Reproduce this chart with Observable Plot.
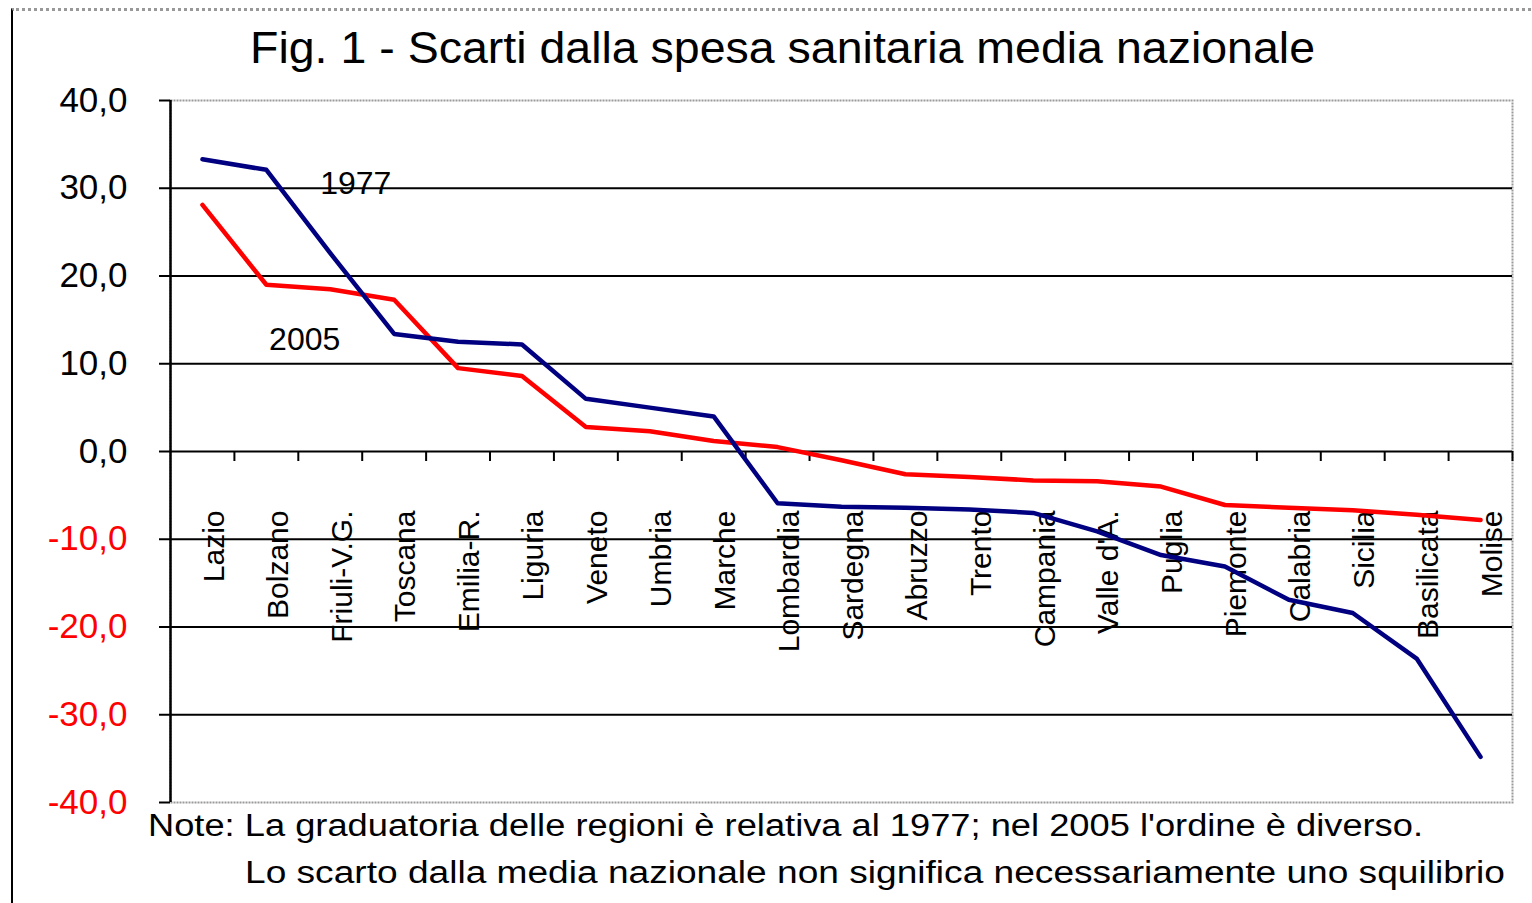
<!DOCTYPE html>
<html><head><meta charset="utf-8">
<script src="https://cdn.jsdelivr.net/npm/d3@7"></script>
<script src="https://cdn.jsdelivr.net/npm/@observablehq/plot@0.6"></script>
<style>
body{margin:0;background:#fff;}
#wrap{position:relative;width:1532px;height:903px;overflow:hidden;background:#fff;font-family:"Liberation Sans",Arial,sans-serif;color:#000;}
#border{position:absolute;left:11px;top:8px;width:1530px;height:900px;border-left:2px solid #000;border-top:3px dotted #999;}
.txt{position:absolute;white-space:nowrap;line-height:1;transform-origin:left top;}
#chart{position:absolute;left:0;top:0;}
</style></head><body>
<div id="wrap">
<div id="border"></div>
<div id="chart"></div>
<div class="txt" id="title" style="font-size:44px;">Fig. 1 - Scarti dalla spesa sanitaria media nazionale</div>
<div class="txt" id="n1" style="font-size:31px;">Note: La graduatoria delle regioni è relativa al 1977; nel 2005 l'ordine è diverso.</div>
<div class="txt" id="n2" style="font-size:31px;">Lo scarto dalla media nazionale non significa necessariamente uno squilibrio</div>
</div>
<script>
const regions = ["Lazio","Bolzano","Friuli-V.G.","Toscana","Emilia-R.","Liguria","Veneto","Umbria","Marche","Lombardia","Sardegna","Abruzzo","Trento","Campania","Valle d'A.","Puglia","Piemonte","Calabria","Sicilia","Basilicata","Molise"];
const scarti1977 = [33.3, 32.1, 22.6, 13.4, 12.5, 12.2, 6.0, 5.0, 4.0, -5.9, -6.3, -6.4, -6.6, -7.0, -9.1, -11.8, -13.1, -16.9, -18.4, -23.6, -34.8];
const scarti2005 = [28.1, 19.0, 18.5, 17.3, 9.5, 8.6, 2.8, 2.3, 1.2, 0.5, -1.0, -2.6, -2.9, -3.3, -3.4, -4.0, -6.1, -6.4, -6.7, -7.2, -7.8];
const yTicks = [40, 30, 20, 10, 0, -10, -20, -30, -40];
const gridValues = [30, 20, 10, 0, -10, -20, -30];
const seriesLabels = [{text: "1977", i: 2.4, v: 30.5}, {text: "2005", i: 1.6, v: 12.7}];

const blue = "#000080", red = "#ff0000";
const idx = regions.map((r, i) => i);
const d1977 = idx.map(i => ({i, v: scarti1977[i]}));
const d2005 = idx.map(i => ({i, v: scarti2005[i]}));
const bounds = d3.range(0.5, regions.length - 0.4, 1);
const fmt = d => d.toFixed(1).replace(".", ",");
const font = '"Liberation Sans", Arial, sans-serif';

const chart = Plot.plot({
  width: 1532, height: 820,
  marginLeft: 170, marginRight: 20, marginTop: 100, marginBottom: 18,
  style: {fontFamily: font, background: "transparent", color: "#000"},
  x: {domain: [-0.5, regions.length - 0.5], axis: null},
  y: {domain: [-40, 40], axis: null},
  marks: [
    Plot.frame({stroke: "#999", strokeDasharray: "2,1", strokeWidth: 2}),
    Plot.ruleY(gridValues, {stroke: "#000", strokeWidth: 2}),
    Plot.ruleX([-0.5], {stroke: "#000", strokeWidth: 2.5}),
    Plot.ruleX(bounds, {x: d => d, y1: 0, y2: 0, insetBottom: -10, stroke: "#000", strokeWidth: 2}),
    Plot.axisY({ticks: yTicks, tickSize: 11, tickPadding: 32, tickFormat: fmt, fontSize: 35, strokeWidth: 2, label: null,
      fill: d => d < 0 ? red : "#000"}),
    Plot.text(regions, {x: (d, i) => i, frameAnchor: "top", dy: 410, text: d => d, rotate: -90, textAnchor: "end", fontSize: 30, fill: "#000"}),
    Plot.line(d2005, {x: "i", y: "v", stroke: red, strokeWidth: 4.5}),
    Plot.line(d1977, {x: "i", y: "v", stroke: blue, strokeWidth: 4.5}),
    Plot.text(seriesLabels, {x: "i", y: "v", text: "text", fontSize: 32, fill: "#000"})
  ]
});
document.getElementById("chart").appendChild(chart);

function place(id, left, right, baseline) {
  const el = document.getElementById(id);
  const fs = parseFloat(el.style.fontSize);
  const w = el.getBoundingClientRect().width;
  el.style.left = left + "px";
  el.style.top = (baseline - 0.8465 * fs) + "px";
  el.style.transform = `scaleX(${(right - left) / w})`;
}
place("title", 250, 1315, 63.5);
place("n1", 148, 1423, 836);
place("n2", 245, 1505, 883);
</script>
</body></html>
